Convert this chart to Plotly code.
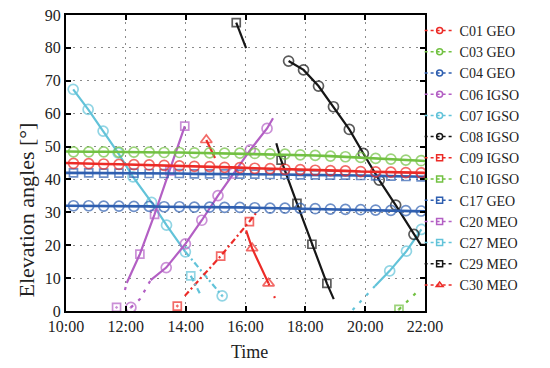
import plotly.graph_objects as go

# ---------------- data (hours of day, elevation in degrees) ----------------
tick_hours = [10, 12, 14, 16, 18, 20, 22]
tick_labels = ["10:00", "12:00", "14:00", "16:00", "18:00", "20:00", "22:00"]
y_ticks = [0, 10, 20, 30, 40, 50, 60, 70, 80, 90]

geo_t = [10.0, 10.25, 10.76, 11.26, 11.77, 12.27, 12.78, 13.28, 13.79, 14.29, 14.80,
         15.30, 15.81, 16.31, 16.82, 17.32, 17.83, 18.33, 18.84, 19.34, 19.85,
         20.35, 20.86, 21.36, 21.87, 22.0]
c01_v = [45.0, 44.9, 44.8, 44.7, 44.6, 44.5, 44.4, 44.3, 44.1, 44.0, 43.9, 43.7, 43.6,
         43.4, 43.3, 43.1, 43.0, 42.8, 42.7, 42.6, 42.4, 42.3, 42.2, 42.1, 42.0, 42.0]
c03_v = [48.5, 48.4, 48.4, 48.4, 48.3, 48.3, 48.3, 48.2, 48.2, 48.1, 48.1, 48.0, 48.0,
         47.9, 47.8, 47.7, 47.5, 47.3, 47.1, 46.9, 46.7, 46.4, 46.2, 45.9, 45.7, 45.6]
c04_v = [32.0, 32.0, 32.0, 31.9, 31.9, 31.8, 31.8, 31.7, 31.7, 31.6, 31.6, 31.5, 31.5,
         31.4, 31.3, 31.3, 31.2, 31.1, 31.0, 30.9, 30.8, 30.7, 30.6, 30.5, 30.4, 30.3]
c17_v = [42.0, 42.0, 42.0, 41.9, 41.9, 41.9, 41.8, 41.8, 41.8, 41.7, 41.7, 41.7, 41.6,
         41.6, 41.5, 41.5, 41.4, 41.4, 41.3, 41.3, 41.2, 41.1, 41.0, 40.9, 40.8, 40.8]

c06_low_t = [12.17, 12.47, 12.83]
c06_low_v = [1.1, 3.6, 9.4]
c06_t = [12.83, 13.35, 13.99, 14.54, 15.08, 15.60, 16.16, 16.72, 16.92]
c06_v = [9.4, 13.2, 20.4, 27.6, 35.1, 41.9, 49.0, 55.5, 58.6]

c07_t = [10.24, 10.74, 11.24, 11.74, 12.24, 12.86, 13.36, 13.99]
c07_v = [67.4, 61.3, 54.7, 48.1, 40.8, 33.0, 26.1, 18.0]
c07_set_t = [13.99, 15.22]
c07_set_v = [18.0, 4.6]
c07_rise_low_t = [19.58, 20.33]
c07_rise_low_v = [0.3, 7.6]
c07_rise_t = [20.33, 20.82, 21.38, 21.88]
c07_rise_v = [7.6, 12.2, 18.2, 24.8]

c08_t = [17.44, 17.94, 18.44, 18.94, 19.47, 19.94, 20.47, 21.02, 21.63, 21.86, 22.0]
c08_v = [76.0, 73.3, 68.4, 62.1, 55.2, 47.9, 39.8, 32.2, 23.3, 20.1, 20.1]

c09_first_t = [13.72]
c09_first_v = [1.5]
c09_t = [13.97, 15.17, 16.13, 16.37]
c09_v = [4.6, 16.7, 27.2, 30.0]

c10_t = [21.13, 21.78]
c10_v = [0.5, 6.2]

c20_first_t = [11.69]
c20_first_v = [1.1]
c20_low_t = [11.97, 12.03]
c20_low_v = [6.4, 8.5]
c20_t = [12.03, 12.47, 12.96, 13.47, 13.97]
c20_v = [8.5, 17.3, 29.4, 42.6, 56.2]

c27_t = [14.17, 14.47]
c27_v = [10.7, 5.4]

c29_a_t = [15.69, 16.02]
c29_a_v = [87.7, 79.9]
c29_b_t = [17.03, 17.19, 17.72, 18.22, 18.72, 18.95]
c29_b_v = [51.0, 45.9, 32.7, 20.3, 8.4, 3.6]

c30_a_t = [14.69, 14.98]
c30_a_v = [52.0, 46.5]
c30_b_t = [16.02, 16.22, 16.77]
c30_b_v = [24.5, 19.1, 8.4]
c30_low_t = [16.77, 16.87, 17.11]
c30_low_v = [8.4, 6.2, 1.3]

legend_names = ["C01 GEO", "C03 GEO", "C04 GEO", "C06 IGSO", "C07 IGSO", "C08 IGSO",
                "C09 IGSO", "C10 IGSO", "C17 GEO", "C20 MEO", "C27 MEO", "C29 MEO", "C30 MEO"]

# ---------------- styles ----------------
RED = "#ec2b27"
GREEN = "#72c142"
BLUE = "#2f5fb0"
PURPLE = "#b35fc4"
CYAN = "#62c3d9"
BLACK = "#161616"

colors = {"C01": RED, "C03": GREEN, "C04": BLUE, "C06": PURPLE, "C07": CYAN, "C08": BLACK,
          "C09": RED, "C10": GREEN, "C17": BLUE, "C20": PURPLE, "C27": CYAN, "C29": BLACK,
          "C30": RED}
symbols = {"C01": "circle", "C03": "circle", "C04": "circle", "C06": "circle",
           "C07": "circle", "C08": "circle", "C09": "square", "C10": "square",
           "C17": "square", "C20": "square", "C27": "square", "C29": "square",
           "C30": "triangle-up"}
msize = {"circle": 10, "square": 8, "triangle-up": 10}

SOLID = "solid"
DOTS = "3px,7px"
DASHDOT = "6px,3px,2px,3px"
SPARSE = "2px,12px"

FONT = "Liberation Serif"

fig = go.Figure()

# legend-only entries
for nm in legend_names:
    key = nm.split()[0]
    fig.add_trace(go.Scatter(
        x=[None], y=[None], mode="lines+markers", name=nm,
        line=dict(color=colors[key], width=1.5, dash="dot"),
        marker=dict(symbol=symbols[key] + "-open", size=6, color=colors[key],
                    line=dict(width=1.5, color=colors[key])),
    ))


def seg(key, t, v, dash, marked, dotted_marker=False, width=2.2):
    sym = symbols[key] + ("-open-dot" if dotted_marker else "-open")
    s = msize[symbols[key]]
    sizes = [s if i in marked else 0 for i in range(len(t))]
    lws = [1.7 if i in marked else 0 for i in range(len(t))]
    mode = "lines+markers" if len(t) > 1 else "markers"
    fig.add_trace(go.Scatter(
        x=t, y=v, mode=mode, showlegend=False, hoverinfo="skip",
        line=dict(color=colors[key], width=width, dash=dash),
        marker=dict(symbol=sym, size=sizes, color=colors[key],
                    line=dict(width=lws, color=colors[key])),
    ))


inner = list(range(1, 25))
seg("C07", c07_t, c07_v, SOLID, list(range(8)))
seg("C07", c07_set_t, c07_set_v, DASHDOT, [])
seg("C07", c07_set_t[1:], c07_set_v[1:], SOLID, [0], dotted_marker=True)
seg("C07", c07_rise_low_t, c07_rise_low_v, DOTS, [])
seg("C07", c07_rise_t, c07_rise_v, SOLID, [1, 2, 3])

seg("C20", c20_first_t, c20_first_v, SOLID, [0], dotted_marker=True)
seg("C20", c20_low_t, c20_low_v, DOTS, [])
seg("C20", c20_t, c20_v, SOLID, [1, 2, 3, 4])

seg("C06", c06_low_t, c06_low_v, DOTS, [])
seg("C06", c06_low_t[:1], c06_low_v[:1], SOLID, [0], dotted_marker=True)
seg("C06", c06_t, c06_v, SOLID, [1, 2, 3, 4, 5, 6, 7])

seg("C09", c09_first_t, c09_first_v, SOLID, [0], dotted_marker=True)
seg("C09", c09_t, c09_v, DASHDOT, [1, 2])

seg("C27", c27_t, c27_v, DASHDOT, [0])

seg("C30", c30_a_t, c30_a_v, SOLID, [0])
seg("C30", c30_b_t, c30_b_v, SOLID, [1, 2])
seg("C30", c30_low_t, c30_low_v, SPARSE, [])

seg("C29", c29_a_t, c29_a_v, SOLID, [0])
seg("C29", c29_b_t, c29_b_v, SOLID, [1, 2, 3, 4])

seg("C08", c08_t, c08_v, SOLID, list(range(9)))

seg("C10", c10_t, c10_v, DOTS, [])
seg("C10", c10_t[:1], c10_v[:1], SOLID, [0], dotted_marker=True)

seg("C04", geo_t, c04_v, SOLID, inner, width=2.6)
seg("C17", geo_t, c17_v, SOLID, inner, width=2.6)
seg("C01", geo_t, c01_v, SOLID, inner, width=2.6)
seg("C03", geo_t, c03_v, SOLID, inner, width=2.6)

axis_common = dict(
    showline=True, linecolor="black", linewidth=2, mirror="ticks",
    ticks="inside", ticklen=5, tickwidth=1.5, tickcolor="black",
    showgrid=True, gridcolor="#8a8a8a", gridwidth=1, griddash="2px,5px",
    zeroline=False, tickfont=dict(family=FONT, size=16, color="#222"),
)

fig.update_xaxes(range=[10, 22], tickmode="array", tickvals=tick_hours,
                 ticktext=tick_labels, **axis_common)
fig.update_yaxes(range=[0, 90], tickmode="array", tickvals=y_ticks, **axis_common)

fig.update_layout(
    width=550, height=368,
    margin=dict(l=66, r=125, t=15, b=57, autoexpand=False),
    plot_bgcolor="white", paper_bgcolor="white",
    showlegend=True,
    legend=dict(x=0.985, y=1.0, xanchor="left", yanchor="top",
                font=dict(family=FONT, size=14, color="#222"),
                bgcolor="rgba(0,0,0,0)", borderwidth=0,
                itemwidth=30, tracegroupgap=0),
    annotations=[
        dict(text="Time", xref="paper", yref="paper", x=0.51, y=-0.138,
             xanchor="center", yanchor="middle", showarrow=False,
             font=dict(family=FONT, size=18, color="#222")),
        dict(text="Elevation angles [°]", xref="paper", yref="paper", x=-0.111, y=0.34,
             xanchor="center", yanchor="middle", textangle=-90, showarrow=False,
             font=dict(family=FONT, size=22, color="#222")),
    ],
)

fig.write_html("out.html", config={"displayModeBar": False},
               post_script="document.body.style.margin='0px';document.body.style.overflow='hidden';")
